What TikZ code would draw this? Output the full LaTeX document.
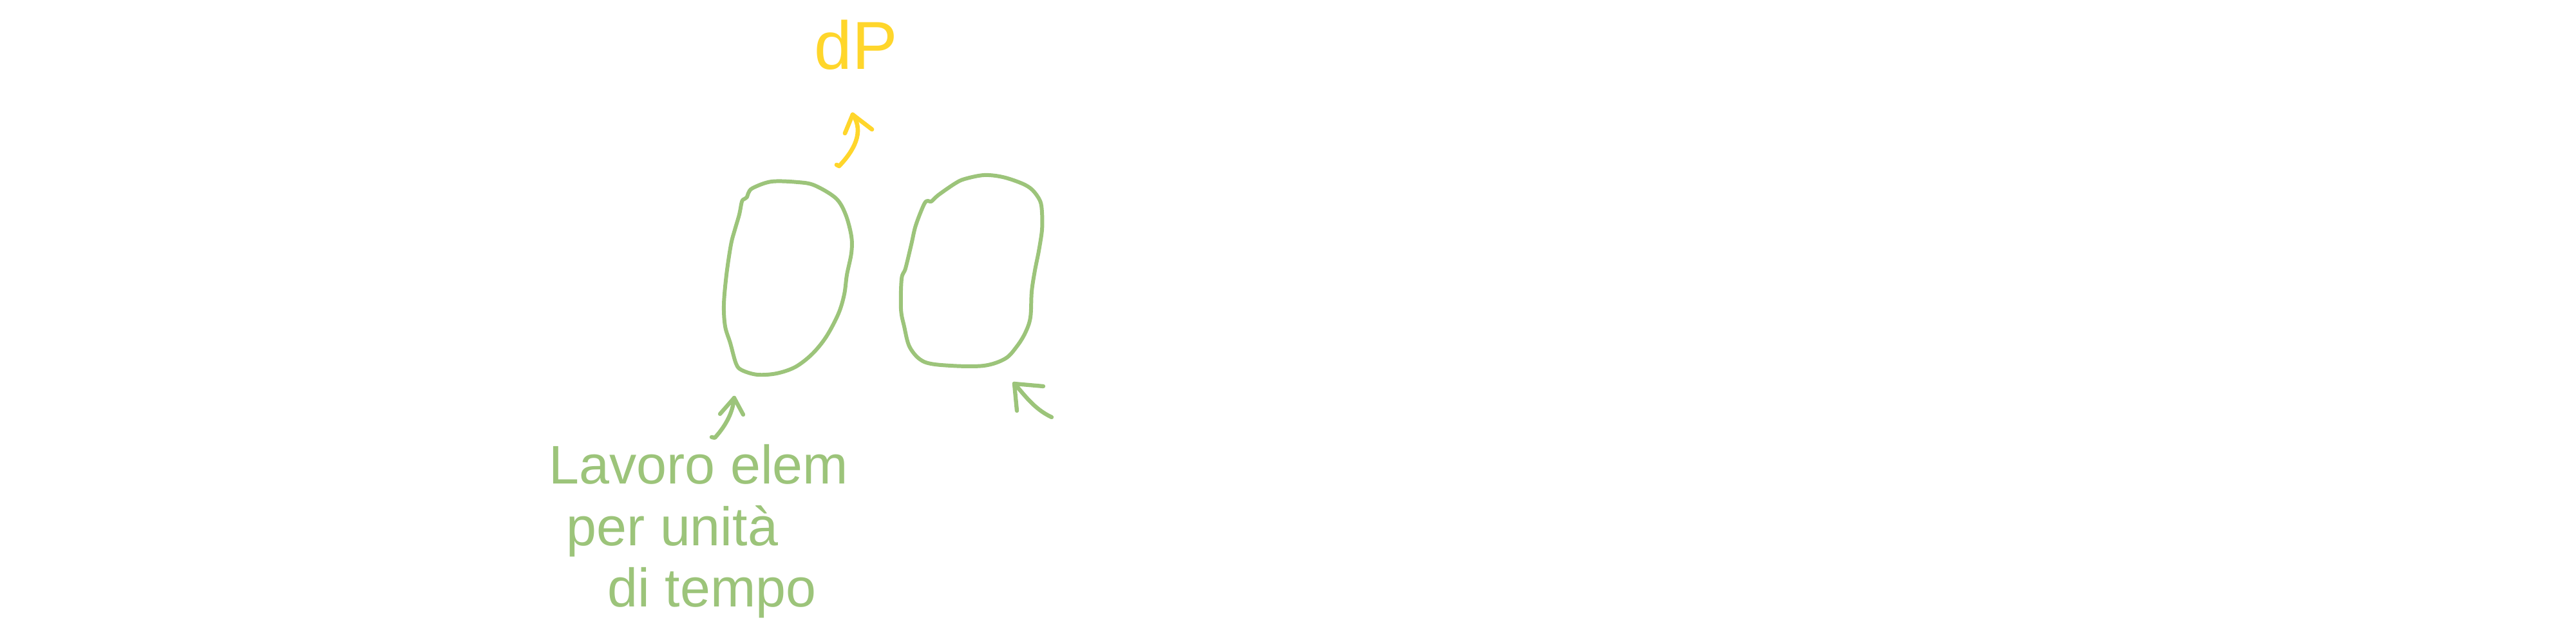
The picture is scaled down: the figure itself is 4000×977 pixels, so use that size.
\documentclass[tikz,border=0pt]{standalone}
\usepackage{fontspec}
\setmainfont{Liberation Sans}
\definecolor{leafgreen}{RGB}{156,196,122}
\definecolor{sunyellow}{RGB}{255,214,43}
\tikzset{
  blobline/.style={draw=leafgreen, line width=1.7pt, line cap=round, line join=round},
  greenarrow/.style={draw=leafgreen, line width=1.8pt, line cap=round, line join=round},
  yellowarrow/.style={draw=sunyellow, line width=1.9pt, line cap=round, line join=round},
  greentext/.style={text=leafgreen, font=\fontsize{24}{28}\selectfont, inner sep=0pt, anchor=base west},
  yellowtext/.style={text=sunyellow, font=\fontsize{30}{34}\selectfont, inner sep=0pt, anchor=base west}
}
\begin{document}
\begin{tikzpicture}[x=0.01cm,y=-0.01cm]
\useasboundingbox (0,0) rectangle (4000,977);
\fill[white] (0,0) rectangle (4000,977);

% label dP
\node[yellowtext] (dp) at (1264,108) {dP};

% left blob
\draw[blobline] plot[smooth cycle, tension=0.55] coordinates {
  (1152,313) (1156,309) (1160,306) (1162,300) (1169,292) (1198,282) (1239,283)
  (1265,288) (1298,308) (1313,333) (1322,367) (1322,393) (1315,427)
  (1311,457) (1302,487) (1283,523) (1261,550) (1235,570) (1206,580)
  (1176,582) (1152,575) (1143,565) (1134,533) (1126,507) (1124,473)
  (1128,427) (1135,380) (1141,357) (1148,333)};

% right blob
\draw[blobline] plot[smooth cycle, tension=0.55] coordinates {
  (1441,312) (1446,313) (1457,303) (1483,285) (1498,278) (1528,272)
  (1557,275) (1587,285) (1603,295) (1615,312) (1618,330) (1618,357)
  (1613,390) (1607,420) (1602,453) (1600,493) (1592,517) (1579,538)
  (1561,557) (1528,568) (1476,568) (1435,562) (1413,540) (1404,507)
  (1399,480) (1400,433) (1406,417) (1415,380) (1422,350) (1435,317)};

% yellow arrow: from left blob up to dP
\coordinate (ytail) at (1303,258);
\coordinate (ytip) at (1324,178);
\draw[yellowarrow] (ytail) ++(-4,-2) -- (ytail) .. controls (1325,235) and (1343,205) .. (ytip);
\draw[yellowarrow] (ytip) -- ++(-12,29);
\draw[yellowarrow] (ytip) -- ++(30,23);

% text
\node[greentext] (line1) at (852,752) {Lavoro elem};
\node[greentext] (line2) at (879,848) {per unità};
\node[greentext] (line3) at (943,943) {di tempo};

% left green arrow: from text to left blob
\coordinate (gtail) at (1110,680);
\coordinate (gtip) at (1140,618);
\draw[greenarrow] (gtail) ++(-5,-1) -- (gtail) .. controls (1128,660) and (1138,640) .. (gtip);
\draw[greenarrow] (gtip) -- ++(-22,25);
\draw[greenarrow] (gtip) -- ++(14,26);

% right green arrow: to right blob
\coordinate (rtail) at (1633,648);
\coordinate (rtip) at (1575,596);
\draw[greenarrow] (rtail) .. controls (1605,635) and (1590,612) .. (rtip);
\draw[greenarrow] (rtip) -- ++(45,4);
\draw[greenarrow] (rtip) -- ++(4,42);
\end{tikzpicture}
\end{document}
